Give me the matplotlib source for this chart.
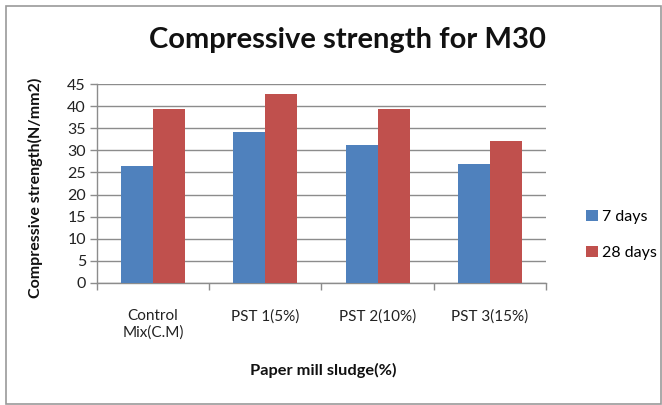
import matplotlib
matplotlib.use("Agg")
import matplotlib.pyplot as plt
import numpy as np
from matplotlib.patches import Rectangle

categories = ["Control\nMix(C.M)", "PST 1(5%)", "PST 2(10%)", "PST 3(15%)"]
days7 = [26.5, 34.1, 31.3, 26.8]
days28 = [39.4, 42.7, 39.4, 32.2]
yticks = [0, 5, 10, 15, 20, 25, 30, 35, 40, 45]

plt.rcParams['font.family'] = ['Lato', 'DejaVu Sans']

fig = plt.figure(figsize=(6.62, 4.05), dpi=100)
fig.patch.set_facecolor('white')
# outer chart border
fig.add_artist(Rectangle((6/662, 1/405), 655/662, 398/405, transform=fig.transFigure,
                         fill=False, edgecolor='#9a9a9a', linewidth=1.2))

ax = fig.add_axes([97/662, 1-283/405, 449/662, 199/405])
x = np.arange(len(categories))
w = 0.285
ax.bar(x - w/2, days7, w, color='#4F81BD', label='7 days', zorder=3)
ax.bar(x + w/2, days28, w, color='#C0504D', label='28 days', zorder=3)

ax.set_xlim(-0.5, len(categories) - 0.5)
ax.set_ylim(0, 45)
ax.set_yticks(yticks)
ax.set_yticklabels([str(v) for v in yticks], fontsize=11.5, color='#222222')
ax.yaxis.grid(True, color='#8c8c8c', linewidth=1.0, zorder=0)
ax.tick_params(axis='y', length=5, width=1, color='#8c8c8c', pad=3)

ax.set_xticks(np.arange(-0.5, len(categories)), minor=False)
ax.set_xticklabels([])
ax.tick_params(axis='x', which='major', length=5, width=1, color='#8c8c8c')
ax.set_xticks(x, minor=True)
ax.set_xticklabels(categories, minor=True, fontsize=11, color='#222222')
ax.tick_params(axis='x', which='minor', length=0, pad=19)

for s in ['top', 'right']:
    ax.spines[s].set_visible(False)
for s in ['left', 'bottom']:
    ax.spines[s].set_color('#8c8c8c')
    ax.spines[s].set_linewidth(1.0)

fig.text(347/662, 1-40/405, "Compressive strength for M30", ha='center', va='center',
         fontsize=21, fontweight='bold', color='#111111')
fig.text(35/662, 1-188/405, "Compressive strength(N/mm2)", ha='center', va='center',
         rotation=90, fontsize=11.5, fontweight='bold', color='#111111')
fig.text(323/662, 1-370/405, "Paper mill sludge(%)", ha='center', va='center',
         fontsize=11.8, fontweight='bold', color='#111111')

leg = ax.legend(loc='center left', bbox_to_anchor=(572/662, 1-235/405),
                bbox_transform=fig.transFigure, frameon=False, fontsize=11.5,
                handlelength=0.7, handleheight=0.7, handletextpad=0.3, labelspacing=1.4)

fig.savefig("out.png", dpi=100)
